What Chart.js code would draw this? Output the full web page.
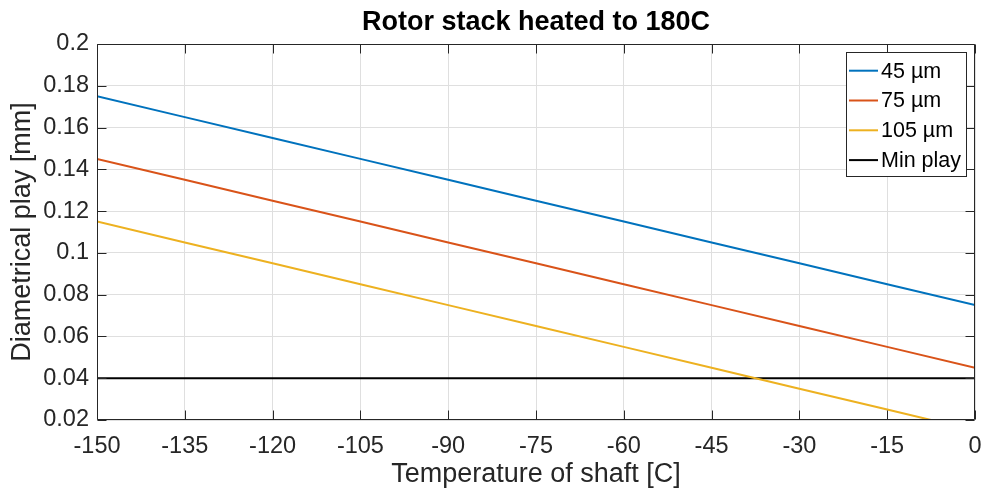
<!DOCTYPE html>
<html>
<head>
<meta charset="utf-8">
<script src="https://cdn.jsdelivr.net/npm/chart.js@4/dist/chart.umd.min.js"></script>
<style>
  html, body { margin: 0; padding: 0; background: #fff; }
  #wrap { width: 983px; height: 496px; }
</style>
</head>
<body>
<div id="wrap"><canvas id="c" width="983" height="496"></canvas></div>
<script>
// ---- data ----
const temps = [-150, -135, -120, -105, -90, -75, -60, -45, -30, -15, 0];
const play45 = [0.175, 0.165, 0.155, 0.145, 0.135, 0.125, 0.115, 0.105, 0.095, 0.085, 0.075];
const play75 = [0.145, 0.135, 0.125, 0.115, 0.105, 0.095, 0.085, 0.075, 0.065, 0.055, 0.045];
const play105 = [0.115, 0.105, 0.095, 0.085, 0.075, 0.065, 0.055, 0.045, 0.035, 0.025, 0.015];
const minPlay = [0.04, 0.04, 0.04, 0.04, 0.04, 0.04, 0.04, 0.04, 0.04, 0.04, 0.04];
const seriesLabels = ['45 µm', '75 µm', '105 µm', 'Min play'];
const seriesColors = ['#0072BD', '#D95319', '#EDB120', '#000000'];
const xTicks = [-150, -135, -120, -105, -90, -75, -60, -45, -30, -15, 0];
const yTicks = [0.02, 0.04, 0.06, 0.08, 0.1, 0.12, 0.14, 0.16, 0.18, 0.2];

const FONT = "'Liberation Sans', Arial, Helvetica, sans-serif";
const AXIS_COLOR = '#262626';

function pts(ys) { return temps.map((t, i) => ({ x: t, y: ys[i] })); }
const allSeries = [play45, play75, play105, minPlay];

const boxPlugin = {
  id: 'matlabBox',
  afterDatasetsDraw(chart) {
    const { ctx, chartArea: a, scales } = chart;
    ctx.save();
    ctx.strokeStyle = AXIS_COLOR;
    ctx.lineWidth = 1;
    const L = Math.round(a.left) + 0.5, R = Math.round(a.right) - 0.5;
    const T = Math.round(a.top) + 0.5, B = Math.round(a.bottom) - 0.5;
    ctx.beginPath();
    ctx.rect(L, T, R - L, B - T);
    const tl = 9;
    xTicks.forEach(v => {
      const px = Math.round(scales.x.getPixelForValue(v)) + 0.5;
      ctx.moveTo(px, B); ctx.lineTo(px, B - tl);
      ctx.moveTo(px, T); ctx.lineTo(px, T + tl);
    });
    yTicks.forEach(v => {
      const py = Math.round(scales.y.getPixelForValue(v)) + 0.5;
      ctx.moveTo(L, py); ctx.lineTo(L + tl, py);
      ctx.moveTo(R, py); ctx.lineTo(R - tl, py);
    });
    ctx.stroke();
    ctx.restore();
  },
  afterDraw(chart) {
    const { ctx } = chart;
    ctx.save();
    const bx = 846.5, by = 52.5, bw = 120, bh = 124;
    ctx.fillStyle = '#ffffff';
    ctx.fillRect(bx, by, bw, bh);
    ctx.strokeStyle = AXIS_COLOR;
    ctx.lineWidth = 1;
    ctx.strokeRect(bx, by, bw, bh);
    const rows = [70.7, 100.5, 130.3, 160.1];
    ctx.font = '21.5px ' + FONT;
    ctx.textBaseline = 'middle';
    ctx.textAlign = 'left';
    chart.data.datasets.forEach((ds, i) => {
      const y = rows[i];
      ctx.strokeStyle = ds.borderColor;
      ctx.lineWidth = 2;
      ctx.beginPath();
      ctx.moveTo(849, y); ctx.lineTo(878, y);
      ctx.stroke();
      ctx.fillStyle = '#000';
      ctx.fillText(ds.label, 881, y + 1);
    });
    ctx.restore();
  }
};

new Chart(document.getElementById('c'), {
  type: 'line',
  data: {
    datasets: allSeries.map((s, i) => ({
      label: seriesLabels[i],
      data: pts(s),
      borderColor: seriesColors[i],
      backgroundColor: seriesColors[i],
      borderWidth: 2,
      pointRadius: 0,
      tension: 0,
      fill: false,
      clip: 0
    }))
  },
  options: {
    responsive: false,
    animation: false,
    events: [],
    layout: { padding: { left: 0, right: 8, top: 0, bottom: 0 } },
    plugins: {
      legend: { display: false },
      tooltip: { enabled: false },
      title: {
        display: true,
        text: 'Rotor stack heated to 180C',
        fullSize: false,
        color: '#000',
        font: { family: FONT, size: 27, weight: 'bold', lineHeight: 1.2 },
        padding: { top: 6.5, bottom: 5.1 }
      }
    },
    scales: {
      x: {
        type: 'linear',
        min: -150, max: 0,
        afterBuildTicks: s => { s.ticks = xTicks.map(v => ({ value: v })); },
        afterFit: s => { s.height = 76; s.paddingLeft = 0; s.paddingRight = 0; },
        grid: { color: '#dfdfdf', lineWidth: 1, drawTicks: false },
        border: { display: false },
        ticks: {
          color: AXIS_COLOR, padding: 12, maxRotation: 0, autoSkip: false,
          font: { family: FONT, size: 23.5 },
          callback: v => String(v)
        },
        title: {
          display: true, text: 'Temperature of shaft [C]', color: AXIS_COLOR,
          font: { family: FONT, size: 27, lineHeight: 1.2 },
          padding: { top: 0, bottom: 5 }
        }
      },
      y: {
        type: 'linear',
        min: 0.02, max: 0.2,
        afterBuildTicks: s => { s.ticks = yTicks.map(v => ({ value: v })); },
        afterFit: s => { s.width = 97; s.paddingTop = 0; s.paddingBottom = 0; },
        grid: { color: '#dfdfdf', lineWidth: 1, drawTicks: false },
        border: { display: false },
        ticks: {
          color: AXIS_COLOR, padding: 8, autoSkip: false,
          font: { family: FONT, size: 23.5 },
          callback: v => String(Number(v.toFixed(2)))
        },
        title: {
          display: true, text: 'Diametrical play [mm]', color: AXIS_COLOR,
          font: { family: FONT, size: 27, lineHeight: 1.2 },
          padding: { top: 6, bottom: 0 }
        }
      }
    }
  },
  plugins: [boxPlugin]
});
</script>
</body>
</html>
